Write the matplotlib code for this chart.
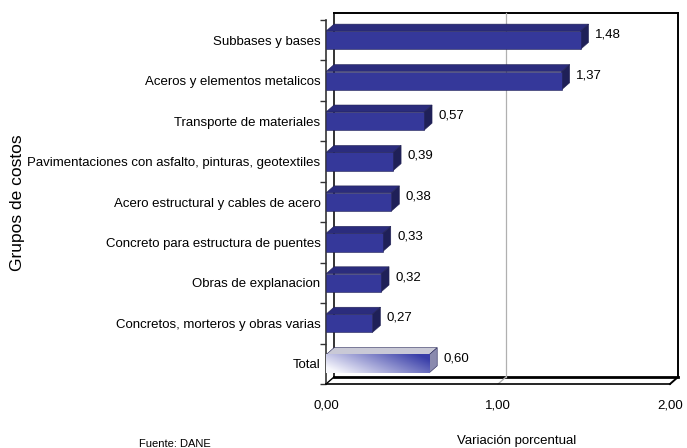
import numpy as np
import matplotlib
matplotlib.use("Agg")
import matplotlib.pyplot as plt
from matplotlib.patches import Polygon, Rectangle
from matplotlib import font_manager as fm

# datos
categorias = [
    "Subbases y bases",
    "Aceros y elementos metalicos",
    "Transporte de materiales",
    "Pavimentaciones con asfalto, pinturas, geotextiles",
    "Acero estructural y cables de acero",
    "Concreto para estructura de puentes",
    "Obras de explanacion",
    "Concretos, morteros y obras varias",
    "Total",
]
valores = [1.48, 1.37, 0.57, 0.39, 0.38, 0.33, 0.32, 0.27, 0.60]
etiquetas = ["1,48", "1,37", "0,57", "0,39", "0,38", "0,33", "0,32", "0,27", "0,60"]
xticks = [0, 1, 2]
xticklabels = ["0,00", "1,00", "2,00"]

nombres = {f.name for f in fm.fontManager.ttflist}
if "Liberation Sans Narrow" in nombres:
    fuente, tam = "Liberation Sans Narrow", 11
else:
    fuente, tam = "Liberation Sans", 9.5

W, H = 687, 448
fig = plt.figure(figsize=(W / 100, H / 100), dpi=100)
ax = fig.add_axes([326 / W, 1 - 384 / H, 344 / W, 364 / H])
n = len(categorias)
ax.set_xlim(0, 2)
ax.set_ylim(n - 0.5, -0.5)

# profundidad 3D en unidades de datos
DX = 8 / 172
DY = -7 / (364 / n)

# pared del fondo
x0b, x1b = DX, 2 + DX
y0b, y1b = -0.5 + DY, n - 0.5 + DY
kw = dict(clip_on=False, zorder=1)
ax.plot([x0b, x0b], [y0b, y1b], color="#333333", lw=1.4, **kw)
ax.plot([x0b, x1b], [y0b, y0b], color="black", lw=1.4, **kw)
ax.plot([x1b, x1b], [y0b, y1b], color="black", lw=1.4, **kw)
ax.plot([x0b, x1b], [y1b, y1b], color="black", lw=2.0, **kw)
ax.plot([1 + DX, 1 + DX], [y0b, y1b], color="#b0b0b0", lw=0.9, **kw)
# piso
ax.plot([0, DX], [n - 0.5, y1b], color="black", lw=1.0, **kw)
ax.plot([1, 1 + DX], [n - 0.5, y1b], color="#b0b0b0", lw=0.9, **kw)
ax.plot([2, 2 + DX], [n - 0.5, y1b], color="black", lw=1.4, **kw)

h = 0.45
frente, arriba, lado = "#35389A", "#2B2C7D", "#1F2058"


def barra(y, v, total=False):
    ya, yb = y - h / 2, y + h / 2
    if total:
        c_top, c_side = "#C9C9D6", "#8A8AAE"
    else:
        c_top, c_side = arriba, lado
    ax.add_patch(Polygon([(0, ya), (DX, ya + DY), (v + DX, ya + DY), (v, ya)],
                         fc=c_top, ec="#222255", lw=0.4, zorder=3))
    ax.add_patch(Polygon([(v, ya), (v + DX, ya + DY), (v + DX, yb + DY), (v, yb)],
                         fc=c_side, ec="#222255", lw=0.4, zorder=3))
    if total:
        xs = np.linspace(0, 1, 200)[None, :]
        ys = np.linspace(0, 1, 30)[:, None]
        t = np.clip(0.85 * xs + 0.35 * (1 - ys) - 0.1, 0, 1)
        blanco = np.array([0.97, 0.97, 0.99])
        azul = np.array([0.22, 0.24, 0.66])
        img = blanco * (1 - t[..., None]) + azul * t[..., None]
        ax.imshow(img, extent=(0, v, yb, ya), origin="upper", aspect="auto",
                  zorder=3, interpolation="bilinear")
    else:
        ax.add_patch(Rectangle((0, ya), v, h, fc=frente, ec="#222255",
                               lw=0.4, zorder=4))


for i, v in enumerate(valores):
    barra(i, v, total=(categorias[i] == "Total"))
    ax.annotate(etiquetas[i], (v + DX, i), xytext=(4.5, 4),
                textcoords="offset points", ha="left", va="center",
                fontsize=tam, family=fuente, color="black", zorder=5)

ax.set_xlim(0, 2)
ax.set_ylim(n - 0.5, -0.5)

ax.set_yticks(range(n))
ax.set_yticklabels(categorias, family=fuente, fontsize=tam)
ax.set_yticks(np.arange(-0.5, n, 1), minor=True)
ax.tick_params(axis="y", which="major", length=0, pad=4)
ax.tick_params(axis="y", which="minor", length=4, width=1, color="#333333",
               direction="out")
ax.set_xticks(xticks)
ax.set_xticklabels(xticklabels, family=fuente, fontsize=tam)
ax.tick_params(axis="x", length=0, pad=11)

for s in ["top", "right"]:
    ax.spines[s].set_visible(False)
ax.spines["left"].set_color("#333333")
ax.spines["left"].set_linewidth(1.2)
ax.spines["bottom"].set_color("black")
ax.spines["bottom"].set_linewidth(1.2)
ax.patch.set_alpha(0)

fig.text(517 / W, 1 - 441 / H, "Variación porcentual", ha="center",
         va="center", family=fuente, fontsize=tam)
fig.text(18 / W, 1 - 203 / H, "Grupos de costos", rotation=90, ha="center",
         va="center", family="Liberation Sans", fontsize=12.5)
fig.text(175 / W, 1 - 439 / H, "Fuente: DANE", ha="center", va="top",
         family=fuente, fontsize=tam - 1.5)

fig.savefig("out.png", dpi=100)
